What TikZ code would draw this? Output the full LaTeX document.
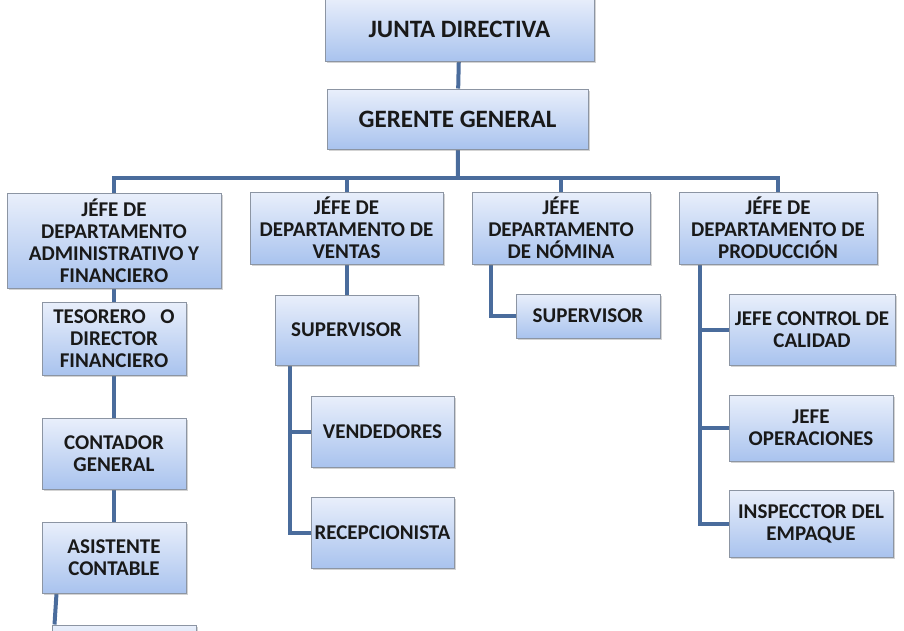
\documentclass[tikz,border=0pt]{standalone}
\usepackage{fontspec}
\setmainfont{Carlito}
\usetikzlibrary{shadows,backgrounds}
\definecolor{linkblue}{HTML}{4A6C9C}
\definecolor{boxtop}{HTML}{E9EFFB}
\definecolor{boxbot}{HTML}{A9C3EE}
\definecolor{boxline}{HTML}{8C95A3}
\begin{document}
\begin{tikzpicture}[x=1pt,y=-1pt,
  box/.style={draw=boxline,line width=1pt,top color=boxtop,bottom color=boxbot,
    drop shadow={opacity=.35,shadow xshift=2pt,shadow yshift=-2pt},
    align=center,inner sep=0pt,text=black!90,
    font=\bfseries\fontsize{21}{22}\selectfont},
  bigbox/.style={box,font=\bfseries\fontsize{25}{28}\selectfont},
  link/.style={draw=linkblue,line width=4pt,line join=miter}]
  \useasboundingbox (0,0) rectangle (904,630);
  \clip (0,0) rectangle (904,630);
  \coordinate (bus) at (458,178);
  \node[bigbox,minimum width=269pt,minimum height=64pt] (junta) at (459.5,29) {JUNTA DIRECTIVA};
  \node[bigbox,minimum width=261pt,minimum height=60pt] (gerente) at (457.5,119) {GERENTE GENERAL};
  \node[box,minimum width=214pt,minimum height=95pt] (admin) at (114,240.5)
    {JÉFE DE\\DEPARTAMENTO\\ADMINISTRATIVO Y\\FINANCIERO};
  \node[box,minimum width=193pt,minimum height=72pt] (ventas) at (346.5,228)
    {JÉFE DE\\DEPARTAMENTO DE\\VENTAS};
  \node[box,minimum width=178pt,minimum height=72pt] (nomina) at (561,228)
    {JÉFE\\DEPARTAMENTO\\DE NÓMINA};
  \node[box,minimum width=198pt,minimum height=72pt] (prod) at (778,228)
    {JÉFE DE\\DEPARTAMENTO DE\\PRODUCCIÓN};
  \node[box,minimum width=144pt,minimum height=73pt] (tesorero) at (114,338.5)
    {TESORERO\hspace{.7em}O\\DIRECTOR\\FINANCIERO};
  \node[box,minimum width=144pt,minimum height=71pt] (contador) at (114,453.5)
    {CONTADOR\\GENERAL};
  \node[box,minimum width=144pt,minimum height=71pt] (asistente) at (114,557.5)
    {ASISTENTE\\CONTABLE};
  \node[box,minimum width=144pt,minimum height=71pt] (auxiliar) at (124,660.5) {};
  \node[box,minimum width=143pt,minimum height=70pt] (superv) at (346.5,330) {SUPERVISOR};
  \node[box,minimum width=143pt,minimum height=71pt] (vend) at (382.5,431.5) {VENDEDORES};
  \node[box,minimum width=143pt,minimum height=71pt] (recep) at (382.5,532.5) {RECEPCIONISTA};
  \node[box,minimum width=144pt,minimum height=44pt] (supnom) at (588,316) {SUPERVISOR};
  \node[box,minimum width=166pt,minimum height=71pt] (calidad) at (812,329.5)
    {JEFE CONTROL DE\\CALIDAD};
  \node[box,minimum width=164pt,minimum height=66pt] (oper) at (811,428)
    {JEFE\\OPERACIONES};
  \node[box,minimum width=164pt,minimum height=67pt] (empaque) at (811,523.5)
    {INSPECCTOR DEL\\EMPAQUE};
  % lines under the boxes
  \begin{scope}[on background layer]
    \draw[link] (junta) -- (gerente);
    \draw[link] (gerente) -- (bus);
    \draw[link] (admin.north) |- (bus) -| (prod.north);
    \draw[link] (ventas.north) -- (ventas.north |- bus);
    \draw[link] (nomina.north) -- (nomina.north |- bus);
    \draw[link] (admin) -- (tesorero);
    \draw[link] (tesorero) -- (contador);
    \draw[link] (contador) -- (asistente);
    \draw[link] ([xshift=15pt]asistente.south west) -- ([xshift=3pt]auxiliar.north west);
    \draw[link] (ventas) -- (superv);
    \draw[link] ([xshift=15pt]superv.south west) |- (vend.west);
    \draw[link] ([xshift=15pt]superv.south west) |- (recep.west);
    \draw[link] ([xshift=19pt]nomina.south west) |- (supnom.west);
    \draw[link] ([xshift=21pt]prod.south west) |- (calidad.west);
    \draw[link] ([xshift=21pt]prod.south west) |- (oper.west);
    \draw[link] ([xshift=21pt]prod.south west) |- (empaque.west);
  \end{scope}
\end{tikzpicture}
\end{document}
